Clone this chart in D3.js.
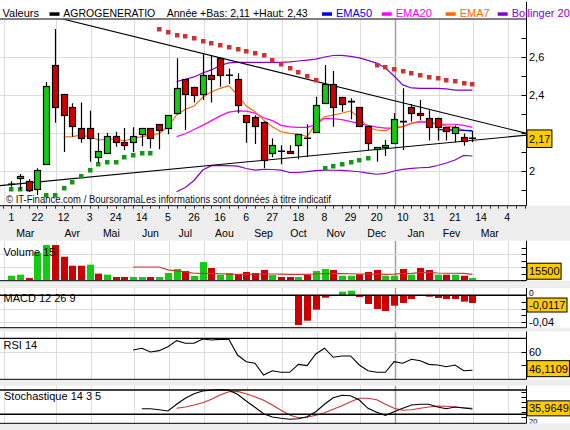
<!DOCTYPE html>
<html><head><meta charset="utf-8">
<script src="https://cdn.jsdelivr.net/npm/d3@7/dist/d3.min.js"></script>
<style>
html,body{margin:0;padding:0;background:#EEEEEE;}
svg{display:block;}
text{font-family:"Liberation Sans",Arial,Helvetica,sans-serif;}
</style></head><body>
<svg id="chart" width="570" height="430"></svg>
<script>
// ---------------- DATA ----------------
const dayLabels = ["1","22","12","3","24","14","5","26","16","6","27","18","8","29","20","10","31","21","14","4"];
const monthLabels = ["Mar","Avr","Mai","Jun","Jul","Aou","Sep","Oct","Nov","Dec","Jan","Fev","Mar"];
const monthLabelPos = [1.6,7,11.5,16,20,24.5,29,33,37.3,42,46.5,50.6,55];
const monthStartWeeks = [-1,5,9,14,18,22,27,31,35,40,44,49,53,57];
const yearStartWeek = 44;

const openP  = [1.930,1.962,1.949,1.904,2.035,2.558,2.405,2.335,2.225,2.225,2.072,2.096,2.183,2.153,2.153,2.193,2.225,2.246,2.225,2.302,2.483,2.444,2.402,2.504,2.593,2.504,2.483,2.293,2.283,2.260,2.093,2.104,2.104,2.135,2.172,2.204,2.356,2.458,2.391,2.365,2.335,2.235,2.114,2.125,2.146,2.260,2.335,2.304,2.280,2.280,2.233,2.204,2.180,2.172];
const highP  = [1.946,1.984,1.956,2.014,2.468,2.747,2.405,2.356,2.360,2.317,2.200,2.200,2.207,2.226,2.230,2.225,2.225,2.246,2.293,2.593,2.483,2.444,2.614,2.605,2.593,2.540,2.514,2.293,2.293,2.260,2.172,2.135,2.135,2.193,2.246,2.391,2.558,2.526,2.391,2.383,2.335,2.235,2.125,2.163,2.304,2.435,2.353,2.374,2.320,2.280,2.233,2.240,2.198,2.210];
const lowP   = [1.917,1.900,1.890,1.874,2.035,2.254,2.100,2.180,2.149,2.049,2.044,2.096,2.128,2.110,2.100,2.130,2.120,2.114,2.193,2.302,2.216,2.360,2.374,2.360,2.444,2.458,2.304,2.149,2.142,2.014,2.072,2.035,2.090,2.062,2.075,2.204,2.356,2.233,2.312,2.272,2.235,2.110,2.049,2.079,2.146,2.110,2.260,2.268,2.160,2.160,2.160,2.151,2.133,2.151];
const closeP = [1.930,1.974,1.904,2.004,2.447,2.335,2.293,2.233,2.172,2.172,2.104,2.183,2.153,2.135,2.183,2.225,2.172,2.214,2.293,2.435,2.402,2.402,2.504,2.483,2.504,2.504,2.347,2.256,2.235,2.062,2.135,2.104,2.093,2.193,2.172,2.347,2.458,2.335,2.356,2.365,2.235,2.146,2.125,2.135,2.274,2.260,2.304,2.291,2.233,2.233,2.212,2.233,2.160,2.172];

const sar = [1.904,1.904,1.904,null,1.874,1.874,1.909,1.940,1.974,2.005,2.037,2.046,2.046,2.074,2.084,2.093,2.093,
  2.747,2.730,2.717,2.709,2.698,2.684,2.672,2.662,2.653,2.642,2.630,2.619,2.609,2.583,2.565,2.541,2.521,2.500,2.477,
  2.017,2.026,2.035,2.046,2.058,2.068,
  2.558,2.546,2.535,2.525,2.514,2.504,2.495,2.488,2.481,2.474,2.465,2.458];

const bollStart = 19;
const bollUp  = [2.470,2.483,2.495,2.516,2.532,2.555,2.569,2.572,2.572,2.572,2.572,2.572,2.572,2.574,2.579,2.584,2.589,2.600,2.608,2.609,2.603,2.595,2.582,2.568,2.542,2.500,2.453,2.437,2.435,2.435,2.435,2.432,2.426,2.426,2.426];
const bollLow = [1.891,1.913,1.950,2.005,2.028,2.028,2.028,2.026,2.013,2.005,2.009,2.008,2.005,1.992,1.992,1.997,2.002,2.005,2.004,2.003,2.000,1.996,1.989,1.983,1.987,2.000,2.009,2.014,2.017,2.019,2.029,2.042,2.058,2.082,2.079];
const ema20Start = 19;
const ema20 = [2.181,2.196,2.218,2.240,2.265,2.290,2.310,2.316,2.315,2.305,2.280,2.265,2.240,2.232,2.230,2.230,2.245,2.277,2.275,2.270,2.260,2.251,2.240,2.231,2.226,2.226,2.233,2.252,2.259,2.256,2.247,2.246,2.246,2.240,2.230];
const ema7Start = 6;
const ema7 = [2.179,2.181,2.189,2.181,2.163,2.167,2.167,2.159,2.171,2.181,2.189,2.198,2.233,2.295,2.325,2.342,2.388,2.417,2.435,2.449,2.400,2.342,2.312,2.268,2.233,2.207,2.198,2.193,2.181,2.251,2.286,2.295,2.304,2.317,2.281,2.230,2.216,2.211,2.233,2.233,2.251,2.263,2.256,2.246,2.237,2.230,2.216,2.207];
const ema50Start = 49;
const ema50 = [2.218,2.216,2.215,2.214,2.213];
const trendUpper = [[28.59,2.544],[59.24,2.198]];
const trendLower = [[-1.3,1.923],[59.24,2.189]];

const volume = [33,41,15,210,269,269,179,110,110,118,49,41,23,23,23,23,23,23,54,85,69,31,138,92,41,54,44,62,54,77,38,23,23,23,38,69,85,77,33,33,44,62,77,33,33,85,41,92,77,41,41,41,33,15.5];
const volDir = "ggrggrrrrgrgrrggrgggrggrggrrrrgrrgrggrggrrrggrgrrgrgrg".split("");
const volMaStart = 14;
const volMa = [100,100,100,100,78,70,62,52,51,51,48,45,44,44,45,46,46,45,44,44,44,46,49,50,49,48,46,45,45,44,45,50,51,56,59,54,52,52,51,44];
const macdStart = 33;
const macdHist = [-0.045,-0.0385,-0.0218,-0.0036,0,0.0055,0.007,-0.0026,-0.0132,-0.0207,-0.0238,-0.0157,-0.0116,-0.0056,0,-0.0021,-0.0041,-0.0056,-0.0056,-0.0096,-0.0117];
const rsiStart = 14;
const rsi = [61.3,62.6,59.8,60.8,63.8,68.3,66.3,66.3,69.5,68.8,69.3,69.3,57.5,52.5,51.3,42.5,45.7,44.5,44.5,50.5,49.5,58.3,62.6,55.8,56.8,56.8,50.0,45.7,44.5,44.5,52.5,51.3,54.3,53.2,50.5,50.0,48.7,50.0,45.7,46.1];
const stoKStart = 15;
const stoK = [33.8,33.8,31.4,28.1,44.7,59.5,70.9,77.5,79.2,80.8,79.2,69.4,52.8,37.3,21.5,13.3,10.1,7.7,9.2,14.1,26.4,44.7,61.0,66.9,66.0,55.3,34.8,24.9,17.5,26.4,34.8,43.0,44.7,44.7,38.0,33.8,38.0,35.6,33.1];
const stoDStart = 19;
const stoD = [34.8,38,43,48.7,57,67.7,75.8,76.6,70.9,63.5,54.6,43,29.9,18.3,11.6,12.6,17.5,24,32.3,41.2,51.1,59.5,59.5,56,44.7,34.8,29.9,31.4,34.8,38,40.5,39.7,38,36.3,34.8];

const priceTicks = [1.9,2.0,2.1,2.2,2.3,2.4,2.5,2.6,2.7];
const priceLabels = [2.0,2.4,2.6];
const priceGrid = [2.0,2.2,2.4,2.6];
const volTicks = [0,50,100,150,200,250], volGrid = [100,200];
const macdTicks = [0,-0.01,-0.02,-0.03,-0.04], macdGrid = [-0.02,-0.04];
const rsiTicks = [60,50], rsiGrid = [60], rsiLabels = [60], rsiLevels = [70];
const stoTicks = [14.1,26.4,38.8,51.1,63.5,75.8], stoLevels = [80,20];

const header = {name:"AGROGENERATIO", info:"Année +Bas: 2,11 +Haut: 2,43"};
const legend = [["EMA50","#0000FF"],["EMA20","#FF00FF"],["EMA7","#FF6600"],["Bollinger 20","#8800CC"]];
const last = {price:2.17, priceTxt:"2,17", vol:15.5, volTxt:"15500", macd:-0.0117, macdTxt:"-0,0117", rsi:46.11, rsiTxt:"46,1109", sto:35.96, stoTxt:"35,9649"};

// ---------------- DRAW ----------------
const svg = d3.select("#chart");
const RIGHT = 526.5;
const GREEN = "#11CC11", RED = "#CC0000";
const xS = d3.scaleLinear().domain([0,53]).range([11.3, 11.3 + 53*8.7]);
const px = i => Math.round(xS(i)) + 0.5;
const gx = i => Math.round(xS(i) + 1) + 0.5;

const P = {
  main:{top:19.5,bottom:205.7},
  vol:{top:240.7,bottom:280.7},
  macd:{top:288,bottom:327.7},
  rsi:{top:331.5,bottom:379.3},
  sto:{top:385.7,bottom:423.3}
};
const yMain = d3.scaleLinear().domain([2.0,2.6]).range([171,57]);
const yVol  = d3.scaleLinear().domain([0,250]).range([280,247.5]);
const yMacd = d3.scaleLinear().domain([0,-0.04]).range([295.3,321.7]);
const yRsi  = d3.scaleLinear().domain([50,60]).range([365,351.7]);
const ySto  = d3.scaleLinear().domain([20,80]).range([414.3,390]);

svg.append("rect").attr("width",570).attr("height",430).attr("fill","#EEEEEE");
const defs = svg.append("defs");
Object.entries(P).forEach(([k,p])=>{
  defs.append("clipPath").attr("id","clip-"+k).append("rect")
    .attr("x",0).attr("y",p.top).attr("width",RIGHT).attr("height",p.bottom-p.top);
  defs.append("clipPath").attr("id","clipR-"+k).append("rect")
    .attr("x",RIGHT).attr("y",p.top).attr("width",570-RIGHT).attr("height",p.bottom-p.top);
});

// white backgrounds
svg.append("rect").attr("x",0).attr("y",0).attr("width",570).attr("height",P.main.bottom).attr("fill","#FFFFFF");
["vol","macd","rsi","sto"].forEach(k=>{
  svg.append("rect").attr("x",0).attr("y",P[k].top).attr("width",570).attr("height",P[k].bottom-P[k].top).attr("fill","#FFFFFF");
});

function grid(k, yScale, hvals){
  const p = P[k];
  const g = svg.append("g").attr("clip-path","url(#clip-"+k+")");
  g.selectAll("line.v").data(monthStartWeeks).join("line")
    .attr("x1",d=>gx(d)).attr("x2",d=>gx(d)).attr("y1",p.top).attr("y2",p.bottom)
    .attr("stroke",d=>d===yearStartWeek?"#A0A0A0":"#DDDDDD").attr("stroke-width",d=>d===yearStartWeek?1.5:1);
  g.selectAll("line.h").data(hvals).join("line")
    .attr("x1",0).attr("x2",RIGHT).attr("y1",d=>Math.round(yScale(d))+0.5).attr("y2",d=>Math.round(yScale(d))+0.5)
    .attr("stroke","#DDDDDD");
  return g;
}
function rightAxis(k, yScale, ticks, labels, fmt, size, dy){
  const g = svg.append("g");
  g.selectAll("line").data(ticks).join("line")
    .attr("x1",RIGHT-5).attr("x2",RIGHT).attr("y1",d=>Math.round(yScale(d))+0.5).attr("y2",d=>Math.round(yScale(d))+0.5)
    .attr("stroke","#000");
  svg.append("g").attr("clip-path","url(#clipR-"+k+")").selectAll("text").data(labels).join("text")
    .attr("x",RIGHT+2.5).attr("y",d=>yScale(d)+(dy||0)).attr("dy","0.36em")
    .attr("font-size",(size||11)+"px").attr("fill","#000").text(fmt);
}
function valueBox(k, yv, txt, h, shift){
  const p = P[k];
  let cy = Math.max(p.top + h/2, Math.min(p.bottom - 1.5 - h/2, yv + (shift||0)));
  const g = svg.append("g");
  const r = g.append("rect").attr("x",RIGHT+0.5).attr("y",cy-h/2).attr("height",h)
    .attr("fill","#FFCC00").attr("stroke","#000").attr("stroke-width",1);
  const t = g.append("text").attr("x",RIGHT+2.5).attr("y",cy).attr("dy","0.36em")
    .attr("font-size","11px").attr("fill","#000").text(txt);
  const w = t.node().getComputedTextLength();
  r.attr("width", w+3.5);
}
const fmtComma = v => String(+v.toFixed(2)).replace(".",",");
function border(k){
  const p = P[k];
  svg.append("line").attr("x1",0).attr("x2",RIGHT).attr("y1",p.bottom).attr("y2",p.bottom).attr("stroke","#000");
  svg.append("line").attr("x1",RIGHT).attr("x2",RIGHT).attr("y1",k==="main"?2:p.top).attr("y2",p.bottom).attr("stroke","#000");
}
function series(start, arr){ return arr.map((v,j)=>({i:start+j, v:v})); }

// ---- MAIN ----
const gm = grid("main", yMain, priceGrid);
const lineM = d3.line().x(d=>xS(d.i)).y(d=>yMain(d.v));
gm.append("path").datum(series(bollStart,bollUp)).attr("d",lineM).attr("fill","none").attr("stroke","#8800CC").attr("stroke-width",1.2);
gm.append("path").datum(series(bollStart,bollLow)).attr("d",lineM).attr("fill","none").attr("stroke","#8800CC").attr("stroke-width",1.2);
gm.append("path").datum(series(ema20Start,ema20)).attr("d",lineM).attr("fill","none").attr("stroke","#FF00FF").attr("stroke-width",1.2);
gm.append("path").datum(series(ema7Start,ema7)).attr("d",lineM).attr("fill","none").attr("stroke","#FF6600").attr("stroke-width",1.1);
gm.append("path").datum(series(ema50Start,ema50)).attr("d",lineM).attr("fill","none").attr("stroke","#0000FF").attr("stroke-width",1.2);
function extend(tl){
  const [a,b] = tl; const s = (b[1]-a[1])/(b[0]-a[0]);
  return [{i:-1.3, v:a[1]+s*(-1.3-a[0])},{i:b[0], v:b[1]}];
}
gm.append("path").datum(extend(trendUpper)).attr("d",lineM).attr("fill","none").attr("stroke","#000").attr("stroke-width",1.1);
gm.append("path").datum(extend(trendLower)).attr("d",lineM).attr("fill","none").attr("stroke","#000").attr("stroke-width",1.1);
// SAR
gm.selectAll("rect.sar").data(sar.map((v,i)=>({i,v})).filter(d=>d.v!=null)).join("rect")
  .attr("x",d=>Math.round(xS(d.i))-2).attr("y",d=>Math.round(yMain(d.v))-2).attr("width",4.5).attr("height",4.5)
  .attr("fill",d=>d.v>closeP[d.i]?"#CC3333":"#119911");
// candles
const candles = openP.map((o,i)=>({i,o,h:highP[i],l:lowP[i],c:closeP[i]}));
const cg = gm.append("g");
cg.selectAll("line.w").data(candles).join("line")
  .attr("x1",d=>px(d.i)).attr("x2",d=>px(d.i)).attr("y1",d=>yMain(d.h)).attr("y2",d=>yMain(d.l))
  .attr("stroke","#000").attr("stroke-width",1.2);
cg.selectAll("rect.b").data(candles.filter(d=>Math.abs(d.o-d.c)>=0.002)).join("rect")
  .attr("x",d=>Math.round(xS(d.i))-3+0.5).attr("width",6)
  .attr("y",d=>Math.round(yMain(Math.max(d.o,d.c)))+0.5)
  .attr("height",d=>Math.max(1,Math.round(Math.abs(yMain(d.o)-yMain(d.c)))))
  .attr("fill",d=>d.c>d.o?GREEN:RED).attr("stroke","#000").attr("stroke-width",1.2);
cg.selectAll("line.d").data(candles.filter(d=>Math.abs(d.o-d.c)<0.002)).join("line")
  .attr("x1",d=>px(d.i)-3.5).attr("x2",d=>px(d.i)+3.5).attr("y1",d=>yMain(d.o)).attr("y2",d=>yMain(d.o))
  .attr("stroke","#000").attr("stroke-width",1.6);
gm.append("text").attr("x",6).attr("y",203).attr("font-size","10px").attr("fill","#111")
  .attr("textLength",325).attr("lengthAdjust","spacingAndGlyphs")
  .text("© IT-Finance.com / BoursoramaLes informations sont données à titre indicatif");
border("main");
svg.append("line").attr("x1",0).attr("x2",RIGHT).attr("y1",19).attr("y2",19).attr("stroke","#000");
rightAxis("main", yMain, priceTicks, priceLabels, fmtComma);
valueBox("main", yMain(last.price), last.priceTxt, 17.5);

// header
const hd = svg.append("g").attr("font-size","11px");
hd.append("text").attr("x",2.5).attr("y",16.5).attr("font-size","11px").text("Valeurs");
hd.append("rect").attr("x",49.5).attr("y",12.3).attr("width",10).attr("height",3.5).attr("fill","#000");
hd.append("text").attr("x",63.3).attr("y",16.5).attr("font-size","11px").attr("textLength",92).attr("lengthAdjust","spacingAndGlyphs").text(header.name);
hd.append("text").attr("x",166.7).attr("y",16.5).attr("font-size","11px").attr("textLength",141).attr("lengthAdjust","spacingAndGlyphs").text(header.info);
const legX = [322,381.7,445.7,497.7];
legend.forEach((d,j)=>{
  hd.append("rect").attr("x",legX[j]).attr("y",12.3).attr("width",10).attr("height",3.5).attr("fill",d[1]);
  hd.append("text").attr("x",legX[j]+14).attr("y",16.5).attr("font-size","11px").attr("fill",d[1]).text(d[0]);
});

// x axis
svg.append("g").selectAll("line").data(d3.range(-1,60)).join("line")
  .attr("x1",d=>px(d)).attr("x2",d=>px(d)).attr("y1",P.main.bottom).attr("y2",P.main.bottom+3).attr("stroke","#333");
svg.append("g").selectAll("text").data(dayLabels).join("text")
  .attr("x",(d,j)=>xS(j*3)).attr("y",221.3).attr("text-anchor","middle").attr("font-size","10.5px").text(d=>d);
svg.append("g").selectAll("text").data(monthLabels).join("text")
  .attr("x",(d,j)=>xS(monthLabelPos[j])).attr("y",236.5).attr("text-anchor","middle").attr("font-size","10.5px").text(d=>d);

// ---- VOLUME ----
const gv = grid("vol", yVol, volGrid);
gv.selectAll("rect").data(volume.map((v,i)=>({i,v}))).join("rect")
  .attr("x",d=>Math.round(xS(d.i))-3).attr("width",7)
  .attr("y",d=>yVol(d.v)).attr("height",d=>yVol(0)-yVol(d.v))
  .attr("fill",d=>volDir[d.i]==="g"?GREEN:RED);
gv.append("path").datum(series(volMaStart,volMa)).attr("d",d3.line().x(d=>xS(d.i)).y(d=>yVol(d.v)))
  .attr("fill","none").attr("stroke","#CC3333").attr("stroke-width",1.2);
svg.append("text").attr("x",3.5).attr("y",256).attr("font-size","11px").text("Volume 15");
border("vol");
rightAxis("vol", yVol, volTicks, [], d=>d);
valueBox("vol", yVol(last.vol), last.volTxt, 16);

// ---- MACD ----
const gc = grid("macd", yMacd, macdGrid);
gc.selectAll("rect").data(series(macdStart,macdHist).filter(d=>d.v!==0)).join("rect")
  .attr("x",d=>Math.round(xS(d.i))-3).attr("width",7)
  .attr("y",d=>Math.min(yMacd(0),yMacd(d.v))).attr("height",d=>Math.abs(yMacd(d.v)-yMacd(0)))
  .attr("fill",d=>d.v>0?GREEN:RED);
svg.append("line").attr("x1",0).attr("x2",RIGHT).attr("y1",yMacd(0)).attr("y2",yMacd(0)).attr("stroke","#000").attr("stroke-width",1.4);
svg.append("text").attr("x",3.5).attr("y",302).attr("font-size","11px").text("MACD 12 26 9");
border("macd");
rightAxis("macd", yMacd, macdTicks, [-0.04], d=>String(d).replace(".",","));
rightAxis("macd", yMacd, [], [0], d=>"0", 8.5, -2);
valueBox("macd", yMacd(last.macd), last.macdTxt, 14, 2);

// ---- RSI ----
const gr = grid("rsi", yRsi, rsiGrid);
gr.append("path").datum(series(rsiStart,rsi)).attr("d",d3.line().x(d=>xS(d.i)).y(d=>yRsi(d.v)))
  .attr("fill","none").attr("stroke","#000").attr("stroke-width",1.1);
svg.selectAll("line.rl").data(rsiLevels).join("line").attr("x1",0).attr("x2",RIGHT)
  .attr("y1",d=>yRsi(d)).attr("y2",d=>yRsi(d)).attr("stroke","#000").attr("stroke-width",1.4);
svg.append("text").attr("x",3.5).attr("y",349).attr("font-size","11px").text("RSI 14");
border("rsi");
rightAxis("rsi", yRsi, rsiTicks, rsiLabels, d=>d);
valueBox("rsi", yRsi(last.rsi), last.rsiTxt, 16, -1.5);

// ---- STOCHASTIC ----
const gs = grid("sto", ySto, []);
svg.selectAll("line.sl").data(stoLevels).join("line").attr("x1",0).attr("x2",RIGHT)
  .attr("y1",d=>ySto(d)).attr("y2",d=>ySto(d)).attr("stroke","#000").attr("stroke-width",1.4);
const lineS = d3.line().x(d=>xS(d.i)).y(d=>ySto(d.v));
gs.append("path").datum(series(stoDStart,stoD)).attr("d",lineS).attr("fill","none").attr("stroke","#CC3333").attr("stroke-width",1.1);
gs.append("path").datum(series(stoKStart,stoK)).attr("d",lineS).attr("fill","none").attr("stroke","#000").attr("stroke-width",1.1);
svg.append("text").attr("x",4).attr("y",399.5).attr("font-size","11px").text("Stochastique 14 3 5");
border("sto");
rightAxis("sto", ySto, stoTicks, [], d=>d);
valueBox("sto", ySto(last.sto), last.stoTxt, 15, 0.5);
rightAxis("sto", ySto, [], [20], d=>d, 7.5, 7.2);
</script>
</body></html>
